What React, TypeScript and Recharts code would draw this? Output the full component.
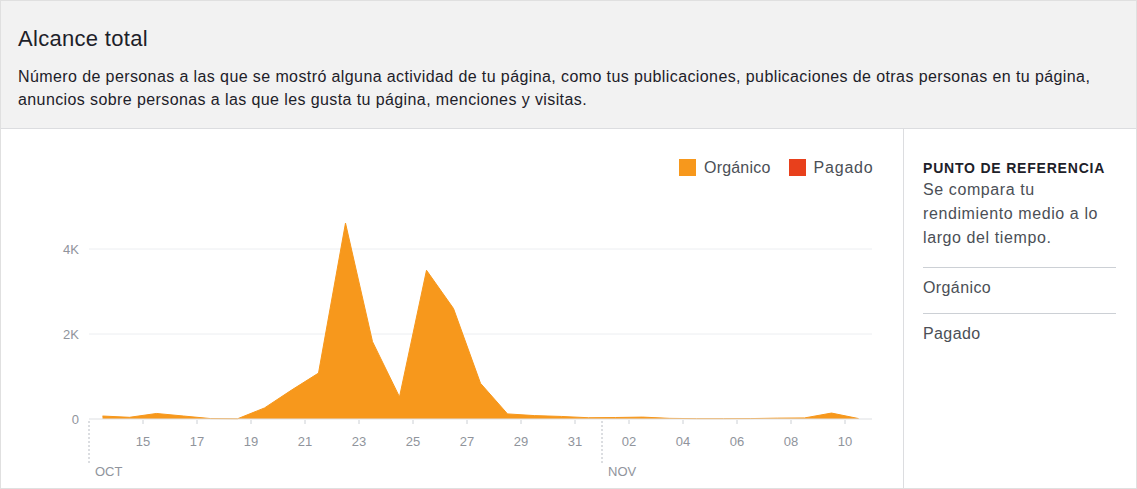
import React from 'react';
import { AreaChart, Area, XAxis, YAxis, CartesianGrid } from 'recharts';

// one entry per day, 13 oct -> 10 nov
const dias = [
    '13', '14', '15', '16', '17', '18', '19', '20', '21', '22', '23', '24', '25', '26', '27', '28', '29', '30', '31',
    '01', '02', '03', '04', '05', '06', '07', '08', '09', '10',
];
const organico = [
    70, 40, 130, 70, 10, 5, 260, 680, 1080, 4610, 1820, 520, 3500, 2600, 840, 120, 80, 60, 30,
    35, 45, 15, 8, 8, 10, 20, 25, 140, 10,
];
const xTickIdx = [2, 4, 6, 8, 10, 12, 14, 16, 18, 20, 22, 24, 26, 28];
const meses = [
    { pos: 0, label: 'OCT' },
    { pos: 19, label: 'NOV' },
];
const yTicks = [0, 2000, 4000];
const gridValues = [2000, 4000];

const naranja = '#f7981c';
const rojo = '#e8401c';
const gris = '#90949c';
const font = '"Liberation Sans", Arial, Helvetica, sans-serif';

const data = dias.map((d, i) => ({ x: i + 0.5, dia: d, organico: organico[i] }));
const allTicks = [...xTickIdx, ...meses.map(m => m.pos)].sort((a, b) => a - b);

const XTick = (props: any) => {
    const { x, y, payload } = props;
    const v = payload.value;
    const mes = meses.find(m => m.pos === v);
    if (mes) {
        return (
            <g>
                <line x1={x} x2={x} y1={y + 2} y2={y + 44} stroke="#b8bcc3" strokeDasharray="2 2" />
                <text x={x + 6} y={y + 57} fill={gris} fontSize={13} fontFamily={font}>{mes.label}</text>
            </g>
        );
    }
    return (
        <g>
            <line x1={x} x2={x} y1={y + 1} y2={y + 5} stroke="#ccd0d5" />
            <text x={x} y={y + 27} textAnchor="middle" fill={gris} fontSize={13} fontFamily={font}>{dias[v]}</text>
        </g>
    );
};

const abs = (left: number, top: number, extra: React.CSSProperties = {}): React.CSSProperties => ({
    position: 'absolute', left, top, whiteSpace: 'nowrap', ...extra,
});

export default function App() {
    return (
        <div style={{
            position: 'absolute', left: 0, top: 0, width: 1137, height: 489, boxSizing: 'border-box',
            border: '1px solid #e0e0e0', background: '#fff', fontFamily: font, overflow: 'hidden',
        }}>
            {/* cabecera */}
            <div style={{ position: 'absolute', left: 0, top: 0, width: 1137, height: 128, background: '#f2f2f2', borderBottom: '1px solid #dcdde0', boxSizing: 'border-box' }}>
                <div style={abs(17, 27, { fontSize: 22, lineHeight: '22px', color: '#1d2129', letterSpacing: 0.3 })}>Alcance total</div>
                <div style={abs(17, 64, { fontSize: 16, lineHeight: '23px', color: '#1d2129', letterSpacing: 0.4 })}>
                    Número de personas a las que se mostró alguna actividad de tu página, como tus publicaciones, publicaciones de otras personas en tu página,
                    <br />
                    anuncios sobre personas a las que les gusta tu página, menciones y visitas.
                </div>
            </div>

            {/* leyenda */}
            <div style={abs(678, 158, { display: 'flex', alignItems: 'center', fontSize: 16, lineHeight: '17px', color: '#4b4f56', letterSpacing: 0.2 })}>
                <span style={{ display: 'inline-block', width: 17, height: 17, background: naranja, marginRight: 8 }} />
                <span style={{ marginRight: 18 }}>Orgánico</span>
                <span style={{ display: 'inline-block', width: 17, height: 17, background: rojo, marginRight: 8 }} />
                <span style={{ letterSpacing: 0.8 }}>Pagado</span>
            </div>

            <div style={{ position: 'absolute', left: 0, top: 128 }}>
                <AreaChart width={903} height={361} data={data} margin={{ top: 35, right: 32, left: 28, bottom: 21 }}>
                    <CartesianGrid vertical={false} horizontalValues={gridValues} stroke="#eceef1" />
                    <XAxis
                        type="number"
                        dataKey="x"
                        domain={[0, 29]}
                        ticks={allTicks}
                        interval={0}
                        tick={<XTick />}
                        tickLine={false}
                        tickSize={0}
                        tickMargin={0}
                        height={50}
                        axisLine={{ stroke: '#dddfe2' }}
                    />
                    <YAxis
                        domain={[0, 6000]}
                        ticks={yTicks}
                        tickFormatter={(v: number) => (v === 0 ? '0' : `${v / 1000}K`)}
                        axisLine={false}
                        tickLine={false}
                        tickMargin={4}
                        width={60}
                        tick={{ fill: gris, fontSize: 13, fontFamily: font }}
                    />
                    <Area
                        type="linear"
                        dataKey="organico"
                        stroke={naranja}
                        fill={naranja}
                        fillOpacity={1}
                        strokeWidth={1}
                        dot={false}
                        activeDot={false}
                        isAnimationActive={false}
                    />
                </AreaChart>
            </div>

            {/* panel derecho */}
            <div style={{ position: 'absolute', left: 902, top: 128, width: 1, height: 361, background: '#dcdde0' }} />
            <div style={abs(922, 160, { fontSize: 14, lineHeight: '14px', fontWeight: 'bold', color: '#1d2129', letterSpacing: 0.8 })}>PUNTO DE REFERENCIA</div>
            <div style={abs(922, 177, { fontSize: 16, lineHeight: '24px', color: '#4b4f56', letterSpacing: 0.6 })}>
                Se compara tu<br />rendimiento medio a lo<br />largo del tiempo.
            </div>
            <div style={{ position: 'absolute', left: 922, top: 266, width: 193, height: 1, background: '#ccd0d5' }} />
            <div style={abs(922, 279, { fontSize: 16, lineHeight: '16px', color: '#4b4f56', letterSpacing: 0.4 })}>Orgánico</div>
            <div style={{ position: 'absolute', left: 922, top: 312, width: 193, height: 1, background: '#ccd0d5' }} />
            <div style={abs(922, 325, { fontSize: 16, lineHeight: '16px', color: '#4b4f56', letterSpacing: 0.4 })}>Pagado</div>
        </div>
    );
}
